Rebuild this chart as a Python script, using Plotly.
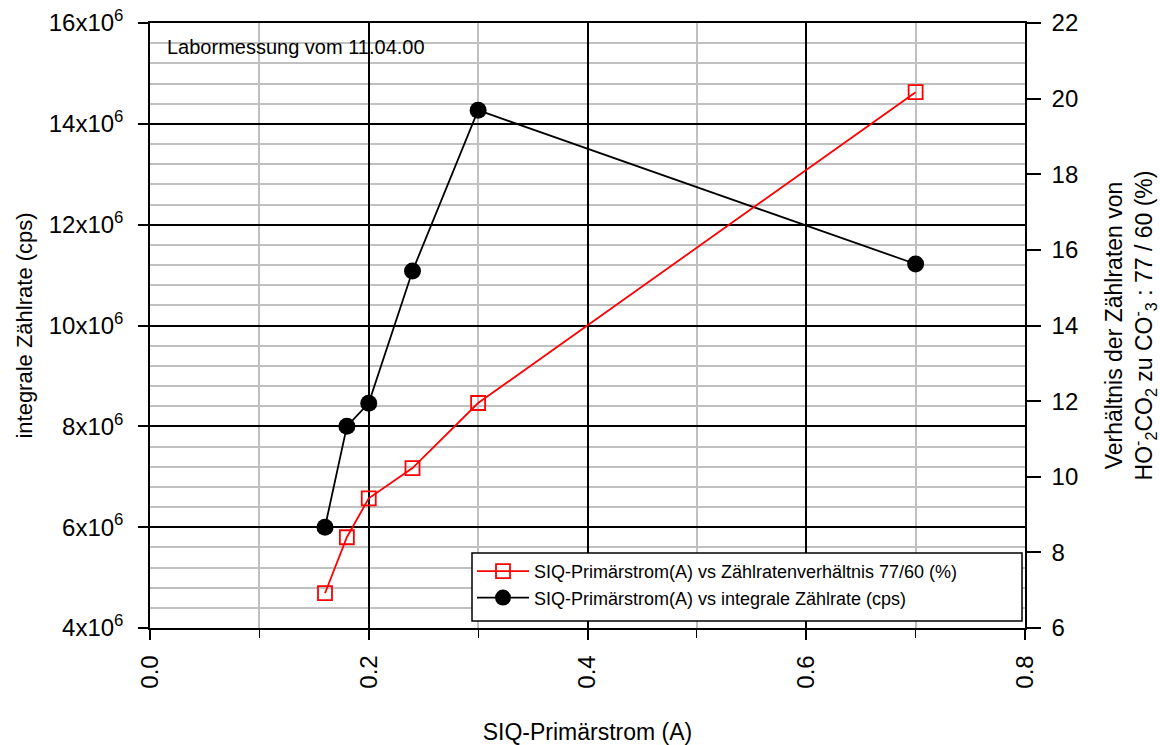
import plotly.graph_objects as go

x_vals = [0.16, 0.18, 0.20, 0.24, 0.30, 0.70]
ratio_pct = [6.92, 8.40, 9.43, 10.23, 11.95, 20.17]
integral_cps = [6.0e6, 8.0e6, 8.46e6, 11.08e6, 14.27e6, 11.22e6]

left_tickvals = [4e6, 6e6, 8e6, 10e6, 12e6, 14e6, 16e6]
left_ticktext = ["4x10<sup>6</sup>", "6x10<sup>6</sup>", "8x10<sup>6</sup>", "10x10<sup>6</sup>",
                 "12x10<sup>6</sup>", "14x10<sup>6</sup>", "16x10<sup>6</sup>"]
x_tickvals = [0.0, 0.2, 0.4, 0.6, 0.8]
x_ticktext = ["0.0", "0.2", "0.4", "0.6", "0.8"]

FONT = "Liberation Sans, Arial, sans-serif"

fig = go.Figure()
fig.add_trace(go.Scatter(
    x=x_vals, y=ratio_pct, yaxis="y2", mode="lines+markers",
    name="SIQ-Primärstrom(A) vs Zählratenverhältnis 77/60 (%)",
    line=dict(color="red", width=1.8),
    marker=dict(symbol="square-open", size=14, color="red", line=dict(width=1.8, color="red")),
))
fig.add_trace(go.Scatter(
    x=x_vals, y=integral_cps, yaxis="y", mode="lines+markers",
    name="SIQ-Primärstrom(A) vs integrale Zählrate (cps)",
    line=dict(color="black", width=1.8),
    marker=dict(symbol="circle", size=17, color="black"),
))

fig.update_layout(
    width=1160, height=745,
    margin=dict(l=150, r=135, t=23, b=117),
    paper_bgcolor="white", plot_bgcolor="white",
    font=dict(family=FONT, color="black", size=18),
    showlegend=True,
    legend=dict(x=0.368, y=0.124, xanchor="left", yanchor="top",
                bgcolor="rgba(0,0,0,0)", borderwidth=0,
                font=dict(size=18), tracegroupgap=0, itemwidth=52),
    xaxis=dict(
        range=[0, 0.8], tickvals=x_tickvals, ticktext=x_ticktext, tickangle=-90,
        tickfont=dict(size=24), showgrid=True, gridcolor="black", gridwidth=1.8,
        ticks="outside", ticklen=10, tickwidth=1.5, tickcolor="black",
        ticklabelstandoff=6, automargin=False,
        showline=True, linecolor="black", linewidth=1.5, mirror=True,
        minor=dict(dtick=0.1, showgrid=True, gridcolor="#c0c0c0", gridwidth=1.8,
                   ticks="outside", ticklen=8, tickwidth=1.2, tickcolor="black"),
        zeroline=False,
        title=dict(text="SIQ-Primärstrom (A)", font=dict(size=23), standoff=38),
    ),
    yaxis=dict(
        range=[4e6, 16e6], tickvals=left_tickvals, ticktext=left_ticktext,
        tickfont=dict(size=24), showgrid=True, gridcolor="black", gridwidth=1.8,
        ticks="outside", ticklen=10, tickwidth=1.5, tickcolor="black",
        ticklabelstandoff=10, automargin=False,
        showline=True, linecolor="black", linewidth=1.5,
        minor=dict(dtick=0.4e6, showgrid=True, gridcolor="#c0c0c0", gridwidth=1.8),
        zeroline=False,
        title=dict(text="integrale Zählrate (cps)", font=dict(size=22), standoff=10),
    ),
    yaxis2=dict(
        range=[6, 22], dtick=2, overlaying="y", side="right",
        tickfont=dict(size=24), showgrid=False,
        ticks="outside", ticklen=14, tickwidth=1.5, tickcolor="black",
        ticklabelstandoff=6, automargin=False,
        showline=True, linecolor="black", linewidth=1.5, zeroline=False,
        title=dict(text="Verhältnis der Zählraten von<br>HO<sup>-</sup><sub>2</sub>CO<sub>2</sub> zu CO<sup>-</sup><sub>3</sub> : 77 / 60 (%)",
                   font=dict(size=23), standoff=35),
    ),
    shapes=[dict(type="rect", xref="paper", yref="paper",
                 x0=(472 - 150) / 875, x1=(1022 - 150) / 875,
                 y0=(628 - 621) / 605, y1=(628 - 553) / 605,
                 line=dict(color="black", width=1.5), fillcolor="white", layer="above")],
    annotations=[dict(text="Labormessung vom 11.04.00", xref="paper", yref="paper",
                      x=0.017, y=0.96, xanchor="left", yanchor="middle",
                      showarrow=False, font=dict(size=20))],
)

fig.write_html("out.html")
